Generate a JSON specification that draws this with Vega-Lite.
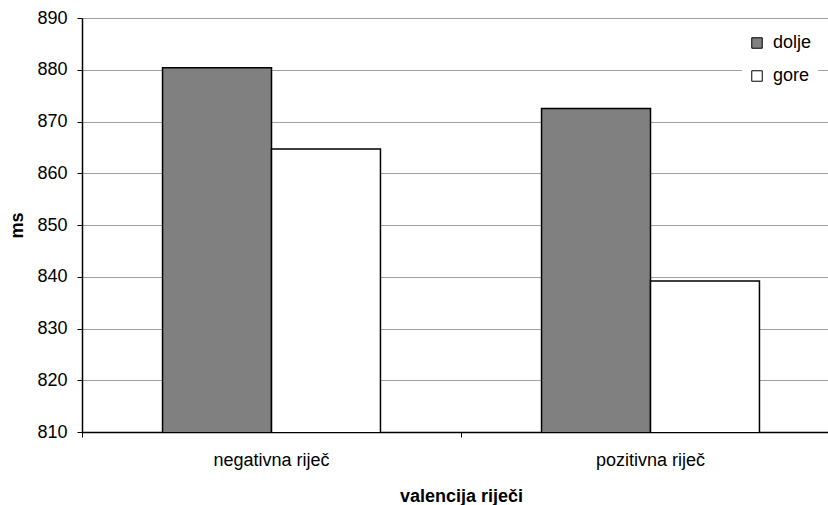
{
  "$schema": "https://vega.github.io/schema/vega-lite/v6.json",
  "width": 758,
  "height": 414,
  "autosize": {"type": "none"},
  "padding": {"left": 82, "top": 18, "right": 0, "bottom": 73},
  "background": "white",
  "config": {"view": {"stroke": null}, "font": "Liberation Sans"},
  "data": {
    "values": [
      {"valencija": "negativna riječ", "smjer": "dolje", "ms": 880.4},
      {"valencija": "negativna riječ", "smjer": "gore", "ms": 864.7},
      {"valencija": "pozitivna riječ", "smjer": "dolje", "ms": 872.5},
      {"valencija": "pozitivna riječ", "smjer": "gore", "ms": 839.2}
    ]
  },
  "resolve": {"axis": {"x": "independent"}},
  "layer": [
    {
      "mark": {"type": "tick", "opacity": 0},
      "encoding": {
        "x": {
          "field": "valencija", "type": "nominal",
          "sort": ["negativna riječ", "pozitivna riječ"],
          "scale": {"paddingInner": 0.425, "paddingOuter": 0.2125},
          "axis": {"orient": "bottom", "bandPosition": -0.369, "labels": false, "domain": false, "ticks": true, "tickSize": 5, "tickColor": "black", "grid": false, "title": null}
        },
        "y": {"field": "ms", "type": "quantitative"}
      }
    },
    {
      "mark": {"type": "bar", "stroke": "black", "strokeWidth": 1.5, "clip": true},
      "encoding": {
        "x": {
          "field": "valencija", "type": "nominal",
          "sort": ["negativna riječ", "pozitivna riječ"],
          "scale": {"paddingInner": 0.425, "paddingOuter": 0.2125},
          "axis": {"orient": "bottom", "labelAngle": 0, "labelFontSize": 18, "labelColor": "black", "labelPadding": 19, "ticks": false, "domainColor": "black", "domainWidth": 1.5, "title": "valencija riječi", "titleFontSize": 18, "titleFontWeight": "bold", "titleColor": "black", "titlePadding": 18}
        },
        "xOffset": {"field": "smjer", "type": "nominal", "sort": ["dolje", "gore"], "scale": {"paddingInner": 0, "paddingOuter": 0}},
        "y": {
          "field": "ms", "type": "quantitative",
          "scale": {"domain": [810, 890], "zero": false, "nice": false},
          "axis": {"values": [810, 820, 830, 840, 850, 860, 870, 880, 890], "labelFontSize": 18, "labelColor": "black", "labelPadding": 10, "tickSize": 5, "tickColor": "black", "domainColor": "black", "domainWidth": 1.5, "gridColor": "#a0a0a0", "title": "ms", "titleFontSize": 18, "titleFontWeight": "bold", "titleColor": "black", "titlePadding": 10}
        },
        "color": {
          "field": "smjer", "type": "nominal",
          "scale": {"domain": ["dolje", "gore"], "range": ["#808080", "#ffffff"]},
          "legend": {"orient": "none", "legendX": 660, "legendY": 10, "title": null, "symbolType": "square", "symbolSize": 110, "symbolStrokeColor": "black", "symbolStrokeWidth": 1, "symbolOpacity": 1, "labelFontSize": 18, "labelColor": "black", "rowPadding": 15, "fillColor": "white", "padding": 6, "labelOffset": 7}
        }
      }
    }
  ]
}
